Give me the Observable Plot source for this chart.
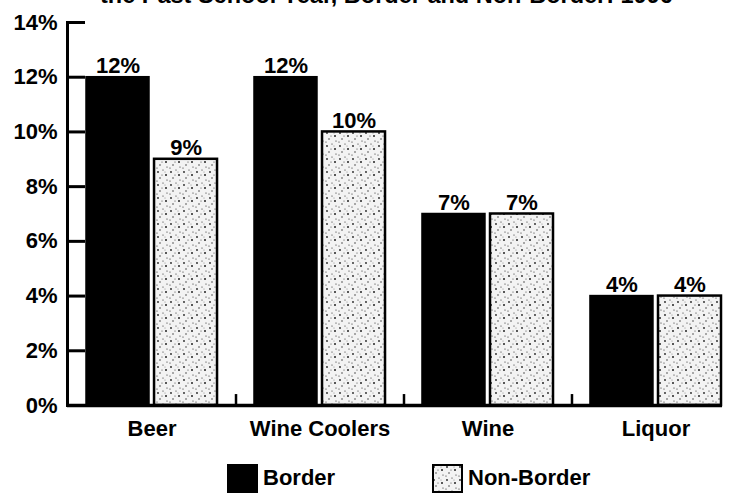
<!DOCTYPE html>
<html>
<head>
<meta charset="utf-8">
<script src="https://cdn.jsdelivr.net/npm/d3@7"></script>
<script src="https://cdn.jsdelivr.net/npm/@observablehq/plot@0.6"></script>
<style>
  body { margin: 0; background: #fff; }
  #wrap { position: relative; width: 730px; height: 493px; overflow: hidden; background: #fff;
          font-family: "Liberation Sans", Arial, Helvetica, sans-serif; font-weight: bold; color: #000; }
  #title { position: absolute; top: -16px; left: 100px; font-size: 23.5px; line-height: 23.5px; white-space: nowrap; z-index: 2; }
  #chart { position: absolute; top: 0; left: 0; }
  #legend { position: absolute; top: 463px; left: 0; width: 730px; height: 30px; }
  .item { position: absolute; top: 0; display: flex; align-items: center; font-size: 22px; height: 30px; }
  .item svg { margin-right: 5px; }
</style>
</head>
<body>
<div id="wrap">
  <div id="chart"></div>
  <div id="title"></div>
  <div id="legend"></div>
</div>
<script>
// ---- data ----
const titleText = "the Past School Year, Border and Non-Border: 1996";
const categories = ["Beer", "Wine Coolers", "Wine", "Liquor"];
const seriesNames = ["Border", "Non-Border"];
const borderValues = [12, 12, 7, 4];
const nonBorderValues = [9, 10, 7, 4];
const yTicks = [0, 2, 4, 6, 8, 10, 12, 14];

const borderRows = categories.map((c, i) => ({category: c, series: seriesNames[0], value: borderValues[i]}));
const nonBorderRows = categories.map((c, i) => ({category: c, series: seriesNames[1], value: nonBorderValues[i]}));

document.getElementById("title").textContent = titleText;

// ---- layout ----
const W = 730, H = 455;
const xRange = [86, 721];
const padInner = 0.22;
const step = (xRange[1] - xRange[0]) / (categories.length - padInner);
const bw = step * (1 - padInner);
const barW = 63;
const inset = bw - barW;
const labelOffset = bw / 2 - barW / 2;
const font = "'Liberation Sans', Arial, Helvetica, sans-serif";

const plot = Plot.plot({
  width: W,
  height: H,
  marginTop: 22,
  marginBottom: 50,
  marginLeft: 67,
  marginRight: 8,
  style: {fontFamily: font, fontSize: "22px", fontWeight: "bold", background: "#fff", overflow: "visible", color: "#000"},
  x: {domain: categories, range: xRange, paddingInner: padInner, paddingOuter: 0, round: false, label: null},
  y: {domain: [0, 14], label: null},
  marks: [
    Plot.barY(borderRows, {x: "category", y: "value", fill: "#000", stroke: "#000", strokeWidth: 1.5, insetRight: inset}),
    Plot.barY(nonBorderRows, {x: "category", y: "value", fill: "url(#speckle)", stroke: "#000", strokeWidth: 2.5, insetLeft: inset}),
    Plot.text(borderRows, {x: "category", y: "value", text: d => d.value + "%", dx: -labelOffset, lineAnchor: "bottom", dy: -4, fill: "#000", fontSize: 22}),
    Plot.text(nonBorderRows, {x: "category", y: "value", text: d => d.value + "%", dx: labelOffset, lineAnchor: "bottom", dy: -4, fill: "#000", fontSize: 22}),
    Plot.frame({anchor: "left", strokeWidth: 3}),
    Plot.tickY(yTicks, {y: d => d, insetRight: (W - 8 - 67) - 18, strokeWidth: 3}),
    Plot.ruleY([0], {strokeWidth: 3.5}),
    Plot.ruleX(categories.slice(1), {x: d => d, dx: -step / 2, y1: 0, y2: 0.4, strokeWidth: 2.5}),
    Plot.axisY({ticks: yTicks, tickFormat: d => d + "%", tickSize: 0, tickPadding: 10, label: null, fontSize: 22}),
    Plot.axisX({tickSize: 0, tickPadding: 15, label: null, fontSize: 22})
  ]
});

// speckled fill pattern for Non-Border bars
function addPattern(svgNode, id) {
  const defs = d3.select(svgNode).insert("defs", ":first-child");
  const p = defs.append("pattern").attr("id", id).attr("patternUnits", "userSpaceOnUse")
    .attr("width", 13).attr("height", 13);
  p.append("rect").attr("width", 13).attr("height", 13).attr("fill", "#f3f3f3");
  const dots = [[2,3,0.9],[7,1,0.6],[10,6,1.0],[4,9,0.7],[11,11,0.6],[6,6,0.5],[1,12,0.6],[9,3,0.4]];
  dots.forEach(([cx, cy, r]) => p.append("circle").attr("cx", cx).attr("cy", cy).attr("r", r).attr("fill", "#222"));
}
addPattern(plot, "speckle");
document.getElementById("chart").appendChild(plot);

// legend
const legend = document.getElementById("legend");
const legendX = [227, 432];
seriesNames.forEach((name, i) => {
  const item = document.createElement("div");
  item.className = "item";
  item.style.left = legendX[i] + "px";
  const sw = d3.create("svg").attr("width", 31).attr("height", 29);
  if (i === 0) {
    sw.append("rect").attr("width", 31).attr("height", 29).attr("fill", "#000");
  } else {
    addPattern(sw.node(), "speckleLegend");
    sw.append("rect").attr("x", 1).attr("y", 1).attr("width", 29).attr("height", 27)
      .attr("fill", "url(#speckleLegend)").attr("stroke", "#000").attr("stroke-width", 2);
  }
  item.appendChild(sw.node());
  const t = document.createElement("span");
  t.textContent = name;
  item.appendChild(t);
  legend.appendChild(item);
});
</script>
</body>
</html>
